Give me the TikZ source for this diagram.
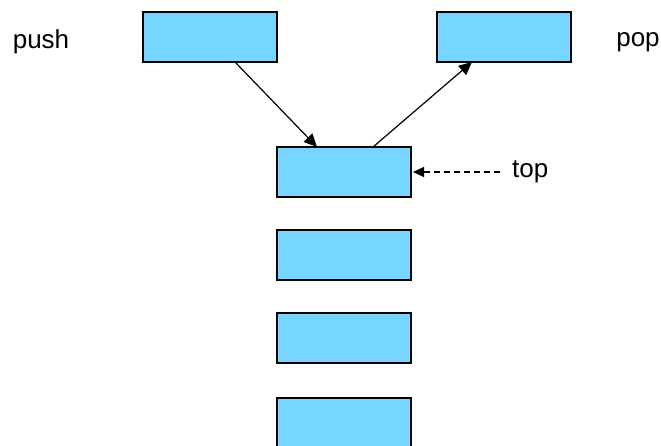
\documentclass[tikz,border=0pt]{standalone}
\usepackage{fontspec}
\setmainfont{Liberation Sans}
\usepackage{tikz}
\usetikzlibrary{arrows.meta,positioning}

\definecolor{cellblue}{RGB}{118,214,255}

\tikzset{
    cell/.style={draw=black, fill=cellblue, line width=1.2pt, minimum width=134pt, minimum height=50pt, inner sep=0pt, outer sep=0pt},
    lbl/.style={inner sep=0pt, font=\fontsize{26}{30}\selectfont},
    link/.style={line width=1.2pt, -{Triangle[length=13pt,width=12pt]}}
}

\begin{document}
\begin{tikzpicture}[x=1pt, y=-1pt]
    \useasboundingbox (0,0) rectangle (661,445);

    % push / pop boxes
    \node[cell] (pushbox) at (210,37) {};
    \node[cell] (popbox) at (504,37) {};
    \node[lbl] (push) at (41,42) {push};
    \node[lbl] (pop) at (638,42) {pop};

    % the stack
    \node[cell] (s1) at (344,172) {};
    \node[cell, below=33pt of s1] (s2) {};
    \node[cell, below=33pt of s2] (s3) {};
    \node[cell, below=35pt of s3] (s4) {};

    \node[lbl, anchor=west] (top) at (512,172) {top};

    \draw[link] ([xshift=25pt]pushbox.south) -- ([xshift=-27pt]s1.north);
    \draw[link] ([xshift=29pt]s1.north) -- ([xshift=-32pt]popbox.south);
    \draw[link, dash pattern=on 6pt off 4pt, -{Triangle[length=11pt,width=10pt]}] ([xshift=-12pt]top.west) -- ([xshift=2pt]s1.east);
\end{tikzpicture}
\end{document}
